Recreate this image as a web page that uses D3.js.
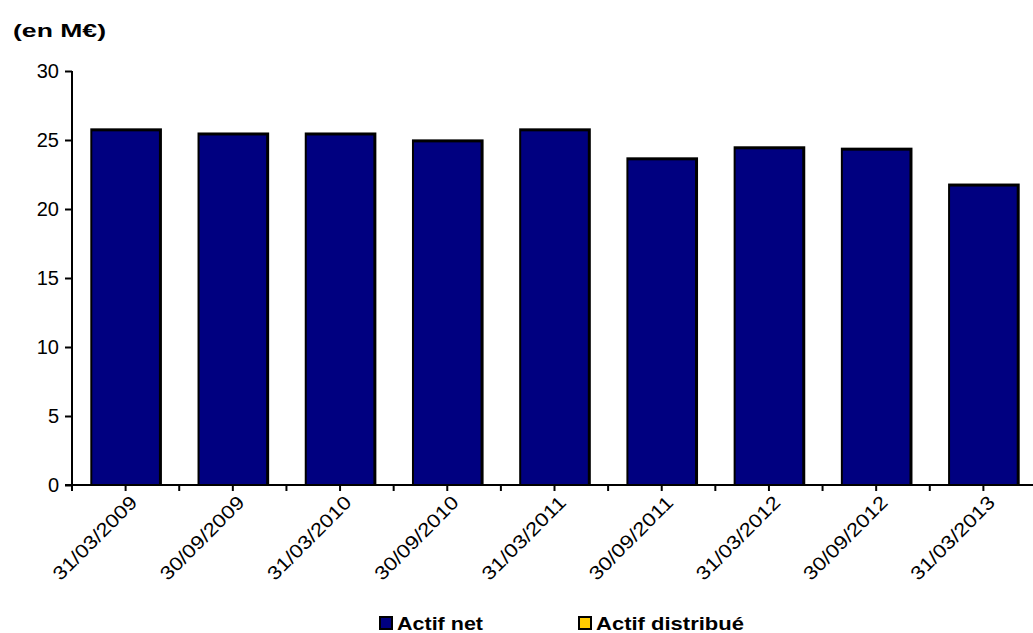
<!DOCTYPE html>
<html>
<head>
<meta charset="utf-8">
<script src="https://cdn.jsdelivr.net/npm/d3@7"></script>
<style>
  html, body { margin: 0; padding: 0; background: #fff; }
  svg { display: block; font-family: "Liberation Sans", Arial, sans-serif; }
</style>
</head>
<body>
<svg id="chart" width="1033" height="633"></svg>
<script>
const categories = ["31/03/2009","30/09/2009","31/03/2010","30/09/2010","31/03/2011","30/09/2011","31/03/2012","30/09/2012","31/03/2013"];
const actifNet = [25.7, 25.4, 25.4, 24.9, 25.7, 23.6, 24.4, 24.3, 21.7];
const yTicks = [0, 5, 10, 15, 20, 25, 30];
const seriesNames = ["Actif net", "Actif distribué"];
const seriesColors = ["#000080", "#FFCC00"];

(function () {
const svg = d3.select("#chart");
const plotLeft = 72, plotRight = 1037, plotTop = 71, plotBottom = 485;

const x = d3.scaleBand().domain(categories).range([plotLeft, plotRight]).paddingInner(0.36).paddingOuter(0.18);
const xOuter = d3.scaleBand().domain(categories).range([plotLeft, plotRight]);
const y = d3.scaleLinear().domain([0, 30]).range([plotBottom, plotTop]);

// bars: black shadow + blue fill
const g = svg.append("g");
g.selectAll("rect.shadow").data(actifNet).join("rect")
  .attr("class", "shadow")
  .attr("x", (d, i) => x(categories[i]) - 1)
  .attr("y", d => y(d) - 2)
  .attr("width", x.bandwidth() + 3)
  .attr("height", d => plotBottom - y(d) + 2)
  .attr("fill", "#000");
g.selectAll("rect.bar").data(actifNet).join("rect")
  .attr("class", "bar")
  .attr("x", (d, i) => x(categories[i]) + 1)
  .attr("y", d => y(d) + 1)
  .attr("width", x.bandwidth() - 2)
  .attr("height", d => plotBottom - y(d) - 1)
  .attr("fill", seriesColors[0]);

// y axis
const yAxis = svg.append("g").attr("transform", `translate(${plotLeft},0)`)
  .call(d3.axisLeft(y).tickValues(yTicks).tickSize(7).tickPadding(6).tickFormat(d3.format("d")));
yAxis.select(".domain").attr("stroke", "#000").attr("stroke-width", 2).attr("d", `M0,${plotTop}V${plotBottom}`);
yAxis.selectAll(".tick line").attr("stroke", "#000").attr("stroke-width", 2);
yAxis.selectAll(".tick text").attr("font-size", 20).attr("fill", "#000")
  .attr("font-family", "Liberation Sans, Arial, sans-serif");

// x axis
const xAxisG = svg.append("g");
xAxisG.append("line").attr("x1", plotLeft - 7).attr("x2", 1033).attr("y1", plotBottom).attr("y2", plotBottom)
  .attr("stroke", "#000").attr("stroke-width", 2);
const tickPos = [];
categories.forEach(c => { tickPos.push(xOuter(c)); tickPos.push(xOuter(c) + xOuter.bandwidth() / 2); });
xAxisG.selectAll("line.t").data(tickPos).join("line").attr("class", "t")
  .attr("x1", d => d).attr("x2", d => d).attr("y1", plotBottom).attr("y2", plotBottom + 6)
  .attr("stroke", "#000").attr("stroke-width", 2);
xAxisG.selectAll("text").data(categories).join("text")
  .attr("transform", d => `translate(${x(d) + x.bandwidth() / 2 + 8},${plotBottom + 14}) rotate(-45)`)
  .attr("text-anchor", "end")
  .attr("dy", "0.35em")
  .attr("font-size", 19)
  .attr("textLength", 110).attr("lengthAdjust", "spacingAndGlyphs")
  .attr("fill", "#000")
  .text(d => d);

// unit title
svg.append("text").attr("x", 13).attr("y", 37).attr("font-size", 19).attr("font-weight", "bold")
  .attr("textLength", 93).attr("lengthAdjust", "spacingAndGlyphs")
  .text("(en M€)");

// legend
const legendX = [380, 579];
const legendTextLen = [86, 148];
const lg = svg.append("g");
seriesNames.forEach((name, i) => {
  lg.append("rect").attr("x", legendX[i]).attr("y", 617).attr("width", 12).attr("height", 12)
    .attr("fill", seriesColors[i]).attr("stroke", "#000").attr("stroke-width", 2);
  lg.append("text").attr("x", legendX[i] + 17).attr("y", 630).attr("font-size", 18).attr("font-weight", "bold")
    .attr("textLength", legendTextLen[i]).attr("lengthAdjust", "spacingAndGlyphs")
    .text(name);
});
})();
</script>
</body>
</html>
